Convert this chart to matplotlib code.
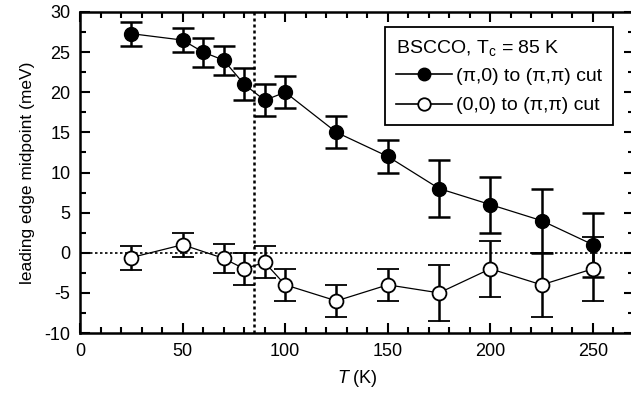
import numpy as np
import matplotlib
matplotlib.use('Agg')
import matplotlib.pyplot as plt
from matplotlib.ticker import MultipleLocator
from matplotlib.lines import Line2D

plt.rcParams['font.family'] = ['Liberation Sans', 'DejaVu Sans']
plt.rcParams['mathtext.fontset'] = 'custom'
plt.rcParams['mathtext.rm'] = 'Liberation Sans'
plt.rcParams['mathtext.it'] = 'Liberation Sans:italic'
plt.rcParams['axes.unicode_minus'] = False

# data
T_pi0 = [25, 50, 60, 70, 80, 90, 100, 125, 150, 175, 200, 225, 250]
E_pi0 = [27.3, 26.5, 25.0, 24.0, 21.0, 19.0, 20.0, 15.0, 12.0, 8.0, 6.0, 4.0, 1.0]
err_pi0 = [1.5, 1.5, 1.8, 1.8, 2.0, 2.0, 2.0, 2.0, 2.0, 3.5, 3.5, 4.0, 4.0]

T_00 = [25, 50, 70, 80, 90, 100, 125, 150, 175, 200, 225, 250]
E_00 = [-0.6, 1.0, -0.7, -2.0, -1.2, -4.0, -6.0, -4.0, -5.0, -2.0, -4.0, -2.0]
err_00 = [1.5, 1.5, 1.8, 2.0, 2.0, 2.0, 2.0, 2.0, 3.5, 3.5, 4.0, 4.0]

Tc = 85

fig = plt.figure(figsize=(6.31, 3.98), dpi=100)
ax = fig.add_axes([80/631, 65/398, 554/631, 321/398])

ax.axvline(Tc, color='black', ls=(0, (1.2, 1.2)), lw=1.8, zorder=1)
ax.axhline(0, color='black', ls=(0, (1.5, 1.5)), lw=1.2, zorder=1)

ax.errorbar(T_pi0, E_pi0, yerr=err_pi0, fmt='-o', color='black', mfc='black', mec='black',
            ms=10, lw=0.9, elinewidth=1.8, capsize=8, capthick=1.8, zorder=3)
ax.errorbar(T_00, E_00, yerr=err_00, fmt='-o', color='black', mfc='white', mec='black',
            ms=10, mew=1.3, lw=0.9, elinewidth=1.8, capsize=8, capthick=1.8, zorder=3)

ax.set_xlim(0, 270)
ax.set_ylim(-10, 30)
ax.xaxis.set_major_locator(MultipleLocator(50))
ax.xaxis.set_minor_locator(MultipleLocator(10))
ax.yaxis.set_major_locator(MultipleLocator(5))
ax.yaxis.set_minor_locator(MultipleLocator(2.5))
ax.tick_params(which='both', direction='in', top=True, right=True, labelsize=13, width=1.5, pad=7)
ax.tick_params(which='major', length=7)
ax.tick_params(which='minor', length=4)
for s in ax.spines.values():
    s.set_linewidth(1.8)

ax.set_xlabel(r'$T$ (K)', fontsize=13, labelpad=6)
ax.set_ylabel('leading edge midpoint (meV)', fontsize=12.5, labelpad=7)

handles = [Line2D([], [], color='black', lw=1.2, marker='o', ms=9, mfc='black', mec='black'),
           Line2D([], [], color='black', lw=1.2, marker='o', ms=9, mfc='white', mec='black', mew=1.3)]
labels = ['(π,0) to (π,π) cut', '(0,0) to (π,π) cut']
leg = ax.legend(handles, labels, loc='upper right', bbox_to_anchor=(0.962, 0.953), fontsize=14,
                title=r'BSCCO, T$_\mathregular{c}$ = 85 K', title_fontsize=14, alignment='left',
                frameon=True, fancybox=False, edgecolor='black', framealpha=1,
                handlelength=2.9, handletextpad=0.2, borderpad=0.55, labelspacing=0.6,
                borderaxespad=0)
leg.get_frame().set_linewidth(1.3)
leg._legend_box.sep = 7

plt.savefig('out.png', dpi=100)
